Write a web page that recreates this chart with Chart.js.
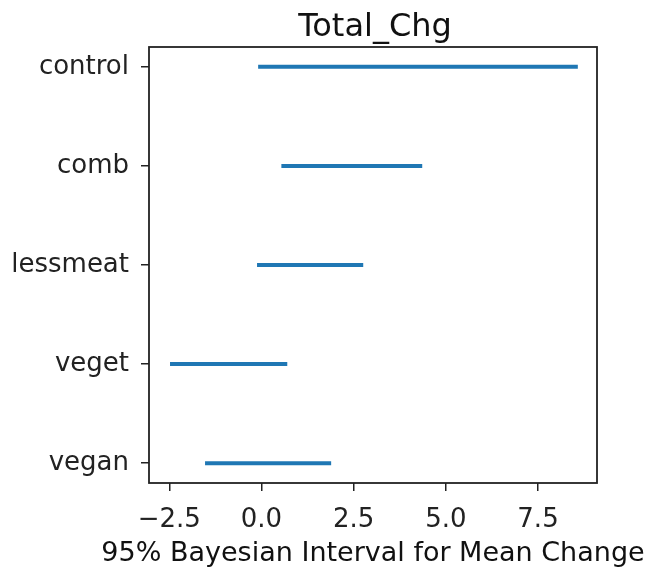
<!DOCTYPE html>
<html>
<head>
<meta charset="utf-8">
<script src="https://cdn.jsdelivr.net/npm/chart.js@4.4.1/dist/chart.umd.min.js"></script>
<style>
  html, body { margin: 0; padding: 0; background: #fff; }
  #wrap { width: 647px; height: 567px; }
</style>
</head>
<body>
<div id="wrap"><canvas id="intervalChart"></canvas></div>
<script>
const groups = ["vegan", "veget", "lessmeat", "comb", "control"];
const lower = [-1.53, -2.48, -0.12, 0.54, -0.09];
const upper = [1.89, 0.70, 2.76, 4.36, 8.58];
const xTicks = [-2.5, 0.0, 2.5, 5.0, 7.5];

const chartTitle = "Total_Chg";
const xLabel = "95% Bayesian Interval for Mean Change";

const font = "'DejaVu Sans', sans-serif";

// box around the plot area plus title / x label centred on the axes (like matplotlib)
const frame = {
  id: "frame",
  afterDraw(chart) {
    const { ctx, chartArea: a } = chart;
    const cx = (a.left + a.right) / 2;
    ctx.save();
    ctx.strokeStyle = "#222";
    ctx.lineWidth = 1.8;
    ctx.strokeRect(a.left, a.top, a.right - a.left, a.bottom - a.top);

    ctx.fillStyle = "#111";
    ctx.textAlign = "center";
    ctx.textBaseline = "alphabetic";
    ctx.font = "32px " + font;
    ctx.fillText(chartTitle, cx + 2, 36);
    ctx.font = "27px " + font;
    ctx.fillText(xLabel, cx, 561);
    ctx.restore();
  }
};

const datasets = groups.map((g, i) => ({
  label: g,
  data: [{ x: lower[i], y: i }, { x: upper[i], y: i }],
  borderColor: "#1f77b4",
  borderWidth: 4,
  pointRadius: 0,
  showLine: true,
  fill: false
}));

new Chart(document.getElementById("intervalChart"), {
  type: "scatter",
  data: { datasets },
  options: {
    responsive: true,
    maintainAspectRatio: false,
    animation: false,
    layout: { padding: { left: 0, right: 50, top: 47, bottom: 0 } },
    plugins: {
      legend: { display: false },
      tooltip: { enabled: false }
    },
    scales: {
      x: {
        type: "linear",
        min: -3.05,
        max: 9.1,
        afterBuildTicks: (scale) => { scale.ticks = xTicks.map(v => ({ value: v })); },
        afterFit: (scale) => { scale.height = 84; },
        ticks: {
          color: "#222",
          font: { family: font, size: 26 },
          padding: 14,
          callback: (v) => (v < 0 ? "\u2212" : "") + Math.abs(v).toFixed(1)
        },
        grid: { drawOnChartArea: false, color: "#222", tickLength: 8, lineWidth: 1.5 },
        border: { display: false }
      },
      y: {
        type: "linear",
        min: -0.2,
        max: 4.2,
        afterBuildTicks: (scale) => { scale.ticks = groups.map((g, i) => ({ value: i })); },
        afterFit: (scale) => { scale.width = 149; },
        ticks: {
          color: "#222",
          font: { family: font, size: 26 },
          padding: 12,
          callback: (v) => groups[v]
        },
        grid: { drawOnChartArea: false, color: "#222", tickLength: 8, lineWidth: 1.5 },
        border: { display: false }
      }
    }
  },
  plugins: [frame]
});
</script>
</body>
</html>
